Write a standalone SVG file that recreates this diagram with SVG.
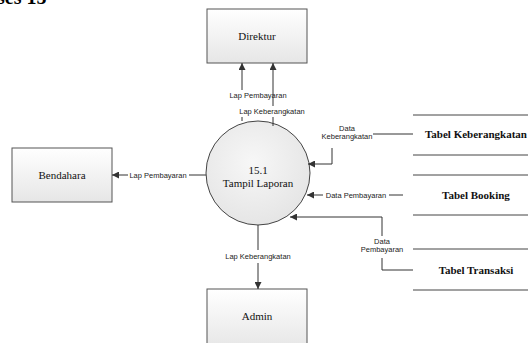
<svg xmlns="http://www.w3.org/2000/svg" width="528" height="343" viewBox="0 0 528 343">
  <defs>
    <linearGradient id="boxFill" x1="0" y1="0" x2="0" y2="1">
      <stop offset="0" stop-color="#ffffff"/>
      <stop offset="1" stop-color="#e6e6e6"/>
    </linearGradient>
    <radialGradient id="procFill" cx="0.45" cy="0.4" r="0.65">
      <stop offset="0" stop-color="#f7f7f7"/>
      <stop offset="1" stop-color="#e4e4e4"/>
    </radialGradient>
    <marker id="arrow" viewBox="0 0 10 10" refX="10" refY="5" markerWidth="7" markerHeight="7" markerUnits="userSpaceOnUse" orient="auto">
      <path d="M0,0 L10,5 L0,10 Z" fill="#333"/>
    </marker>
  </defs>
  <style>
    .box { fill: url(#boxFill); stroke: #555; stroke-width: 1; }
    .proc { fill: url(#procFill); stroke: #444; stroke-width: 1; }
    .store { stroke: #444; stroke-width: 1; }
    .flow { fill: none; stroke: #333; stroke-width: 1; }
    .name { font-family: "Liberation Serif", "Times New Roman", serif; font-size: 11px; fill: #111; text-anchor: middle; }
    .store-name { font-family: "Liberation Serif", "Times New Roman", serif; font-size: 11px; font-weight: bold; fill: #111; text-anchor: middle; }
    .label { font-family: "Liberation Sans", Arial, sans-serif; font-size: 7.5px; fill: #222; text-anchor: middle; }
    .title { font-family: "Liberation Serif", "Times New Roman", serif; font-size: 20px; font-weight: bold; fill: #000; }
  </style>

  <text class="title" x="-3" y="4">ses 15</text>

  <g id="direktur">
    <rect class="box" x="207" y="9" width="100" height="54"/>
    <text class="name" x="257" y="40">Direktur</text>
  </g>

  <g id="bendahara">
    <rect class="box" x="12" y="148" width="100" height="54"/>
    <text class="name" x="62" y="179">Bendahara</text>
  </g>

  <g id="admin">
    <rect class="box" x="207" y="289" width="100" height="60"/>
    <text class="name" x="257" y="320">Admin</text>
  </g>

  <g id="proses-15-1">
    <circle class="proc" cx="258" cy="173" r="52"/>
    <text class="name" x="258" y="174">15.1</text>
    <text class="name" x="258" y="187">Tampil Laporan</text>
  </g>

  <g id="tabel-keberangkatan">
    <line class="store" x1="413" y1="115" x2="528" y2="115"/>
    <line class="store" x1="413" y1="155" x2="528" y2="155"/>
    <text class="store-name" x="476" y="138">Tabel Keberangkatan</text>
  </g>

  <g id="tabel-booking">
    <line class="store" x1="413" y1="175" x2="528" y2="175"/>
    <line class="store" x1="413" y1="215" x2="528" y2="215"/>
    <text class="store-name" x="476" y="199">Tabel Booking</text>
  </g>

  <g id="tabel-transaksi">
    <line class="store" x1="413" y1="249" x2="528" y2="249"/>
    <line class="store" x1="413" y1="290" x2="528" y2="290"/>
    <text class="store-name" x="476" y="274">Tabel Transaksi</text>
  </g>

  <g id="connectors">
    <!-- Lap Pembayaran to Direktur -->
    <path class="flow" d="M242,121 L242,117"/>
    <path class="flow" d="M242,90 L242,63" marker-end="url(#arrow)"/>
    <text class="label" x="258" y="98">Lap Pembayaran</text>

    <!-- Lap Keberangkatan to Direktur -->
    <path class="flow" d="M273,126 L273,117"/>
    <path class="flow" d="M273,106 L273,63" marker-end="url(#arrow)"/>
    <text class="label" x="272" y="114">Lap Keberangkatan</text>

    <!-- Lap Pembayaran to Bendahara -->
    <path class="flow" d="M206,175 L189,175"/>
    <path class="flow" d="M128,175 L112,175" marker-end="url(#arrow)"/>
    <text class="label" x="158" y="178">Lap Pembayaran</text>

    <!-- Lap Keberangkatan to Admin -->
    <path class="flow" d="M258,225 L258,250"/>
    <path class="flow" d="M258,263 L258,289" marker-end="url(#arrow)"/>
    <text class="label" x="258" y="259">Lap Keberangkatan</text>

    <!-- Data Keberangkatan from Tabel Keberangkatan -->
    <path class="flow" d="M413,134 L373,134"/>
    <path class="flow" d="M332,148 L332,164 L308,164" marker-end="url(#arrow)"/>
    <text class="label" x="347" y="131">Data</text>
    <text class="label" x="347" y="139">Keberangkatan</text>

    <!-- Data Pembayaran from Tabel Booking -->
    <path class="flow" d="M403,195 L389,195"/>
    <path class="flow" d="M323,195 L307,195" marker-end="url(#arrow)"/>
    <text class="label" x="356" y="198">Data Pembayaran</text>

    <!-- Data Pembayaran from Tabel Transaksi -->
    <path class="flow" d="M413,270 L382,270 L382,258"/>
    <path class="flow" d="M382,236 L382,217 L290,217" marker-end="url(#arrow)"/>
    <text class="label" x="382" y="244">Data</text>
    <text class="label" x="382" y="252">Pembayaran</text>
  </g>
</svg>
